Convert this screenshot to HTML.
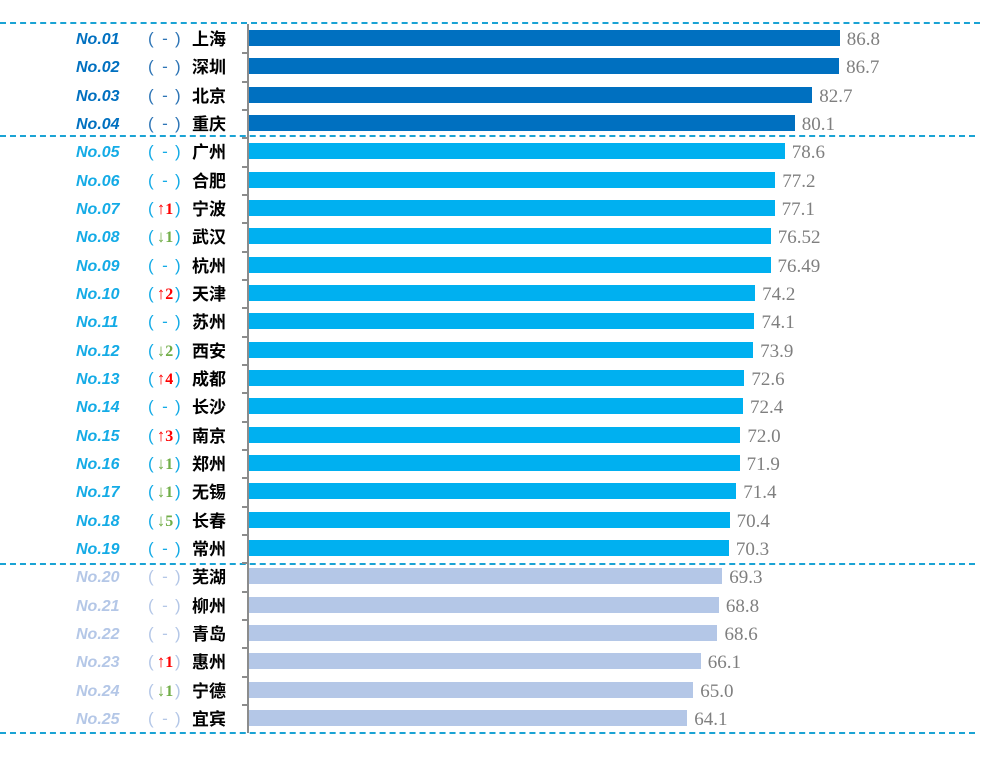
<!DOCTYPE html>
<html><head><meta charset="utf-8"><style>
body{margin:0;background:#fff;width:982px;height:759px;overflow:hidden;position:relative;font-family:"Liberation Sans","Noto Sans CJK SC",sans-serif}
.d{position:absolute;left:0;height:0;border-top:2px dashed #1aa3d4}
.r{position:absolute;left:0;width:982px;height:28px;line-height:28px}
.no{position:absolute;left:76px;top:2px;font-weight:bold;font-style:italic;font-size:16px}
.pl,.pr,.pm{position:absolute;top:1px;font-size:17px;font-family:"Liberation Sans",sans-serif}
.pl{left:148px}.pr{left:175px}.pm{left:155px;width:20px;text-align:center}
.pm b{font-family:"Liberation Serif",serif;font-size:16px}
.c{position:absolute;left:192px;top:0;font-weight:bold;font-size:17px;color:#000;font-family:"Noto Sans CJK SC",sans-serif}
.bar{position:absolute;left:249px;top:6px;height:16px}
.v{position:absolute;top:2px;font-family:"Liberation Serif",serif;font-size:19px;color:#7f7f7f}
</style></head><body>
<div class="d" style="top:22px;width:980px"></div>
<div class="d" style="top:135px;width:975px"></div>
<div class="d" style="top:563px;width:975px"></div>
<div class="d" style="top:732px;width:975px"></div>
<div style="position:absolute;left:247px;top:24px;width:2px;height:709px;background:#8c8c8c"></div>
<div id="rows"></div>
<script>
var d=[["01","-","上海",86.8],["02","-","深圳",86.7],["03","-","北京",82.7],["04","-","重庆",80.1],["05","-","广州",78.6],["06","-","合肥",77.2],["07","u1","宁波",77.1],["08","d1","武汉",76.52],["09","-","杭州",76.49],["10","u2","天津",74.2],["11","-","苏州",74.1],["12","d2","西安",73.9],["13","u4","成都",72.6],["14","-","长沙",72.4],["15","u3","南京","72.0"],["16","d1","郑州",71.9],["17","d1","无锡",71.4],["18","d5","长春",70.4],["19","-","常州",70.3],["20","-","芜湖",69.3],["21","-","柳州",68.8],["22","-","青岛",68.6],["23","u1","惠州",66.1],["24","d1","宁德","65.0"],["25","-","宜宾",64.1]];
var h="";
d.forEach(function(r,i){
var c=38+28.33*i,top=c-14;
var tc=i<4?"#0070c0":i<19?"#14abe6":"#b4c7e7";
var bc=i<4?"#0070c0":i<19?"#00b0f0":"#b4c7e7";
var pc=i<4?"#2e75b6":i<19?"#14abe6":"#b4c7e7";
var v=parseFloat(r[3]),end=256.5+6.72*v;
var p;
if(r[1]=="-")p="-";else{var up=r[1][0]=="u";p="<span style='color:"+(up?"#ff0000":"#70ad47")+"'>"+(up?"↑":"↓")+"<b>"+r[1][1]+"</b></span>";}
h+="<div class='r' style='top:"+top+"px'><span class='no' style='color:"+tc+"'>No."+r[0]+"</span><span class='pl' style='color:"+pc+"'>(</span><span class='pm' style='color:"+pc+"'>"+p+"</span><span class='pr' style='color:"+pc+"'>)</span><span class='c'>"+r[2]+"</span><div class='bar' style='width:"+(end-249)+"px;background:"+bc+"'></div><span class='v' style='left:"+(end+7)+"px'>"+r[3]+"</span>"+(i>0?"<div style='position:absolute;left:242px;top:0;width:6px;height:2px;background:#8c8c8c'></div>":"")+"</div>";
});
document.getElementById("rows").innerHTML=h;
</script>
</body></html>
